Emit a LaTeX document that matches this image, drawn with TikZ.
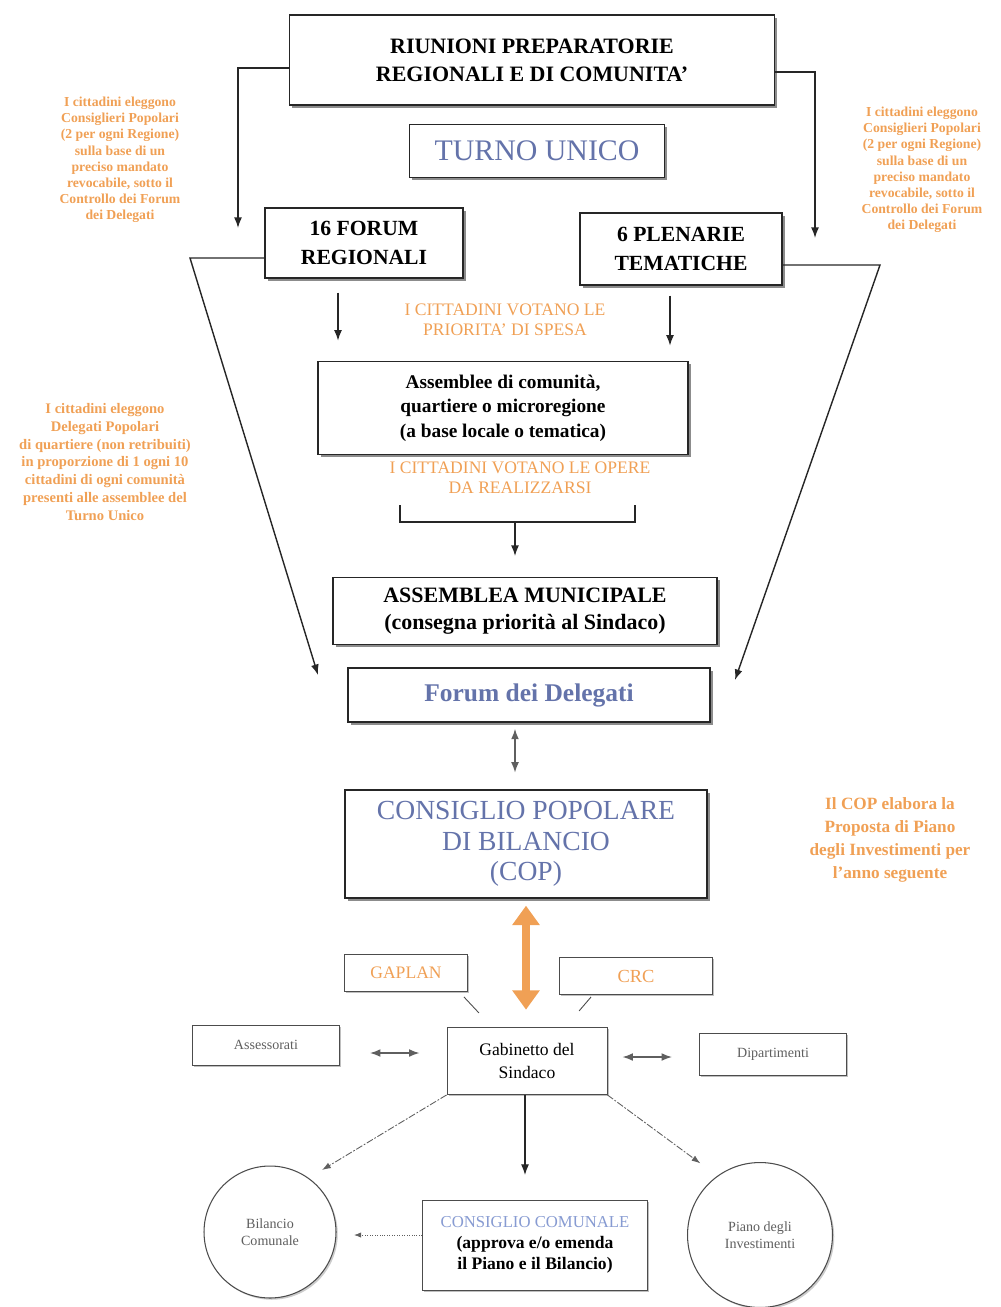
\documentclass[tikz,border=0pt]{standalone}
\usepackage{fontspec}
\setmainfont{Liberation Serif}
\usepackage{tikz}
\usetikzlibrary{arrows.meta,shadows,calc}
\definecolor{COPOrange}{RGB}{240,160,85}
\definecolor{COPBlue}{RGB}{100,115,170}
\definecolor{COPLightBlue}{RGB}{135,155,210}
\definecolor{COPGray}{RGB}{95,95,95}
\begin{document}
\begin{tikzpicture}[
  x=0.02cm,y=-0.02cm,
  box/.style={draw=black!85,fill=white,line width=0.8pt,align=center,inner sep=0pt,
              drop shadow={shadow xshift=1.6pt,shadow yshift=-1.6pt,fill=black!45,opacity=1}},
  sbox/.style={draw=black!70,fill=white,line width=0.5pt,align=center,inner sep=0pt,
               drop shadow={shadow xshift=1pt,shadow yshift=-1pt,fill=black!25,opacity=1}},
  circ/.style={circle,draw=black!70,fill=white,line width=0.6pt,align=center,inner sep=0pt,
               drop shadow={shadow xshift=1pt,shadow yshift=-1pt,fill=black!20,opacity=1}},
  note/.style={text=COPOrange,align=center,inner sep=0pt},
  arr/.style={-{Latex[length=6pt,width=4.5pt]},black!85,line width=0.8pt},
  darr/.style={{Latex[length=6pt,width=4.5pt]}-{Latex[length=6pt,width=4.5pt]},COPGray,line width=0.9pt},
  thinarr/.style={-{Latex[length=5pt,width=3.5pt]},COPGray,line width=0.5pt,dash pattern=on 4pt off 1pt on 1pt off 1pt},
]
\useasboundingbox (0,0) rectangle (1000,1307);

% top of the funnel
\node[box,minimum width=9.7cm,minimum height=1.8cm,font=\fontsize{12.5}{16}\selectfont\bfseries]
  (riun) at (532,60) {RIUNIONI PREPARATORIE\\REGIONALI E DI COMUNITA'};
\node[box,minimum width=5.1cm,minimum height=1.06cm,font=\fontsize{17}{19}\selectfont,text=COPBlue]
  (turno) at (537,151) {TURNO UNICO};
\node[box,minimum width=3.96cm,minimum height=1.4cm,font=\fontsize{12.3}{16}\selectfont\bfseries]
  (forum) at (364,243) {16 FORUM\\REGIONALI};
\node[box,minimum width=4.04cm,minimum height=1.44cm,font=\fontsize{12.3}{16}\selectfont\bfseries]
  (plen) at (681,249) {6 PLENARIE\\TEMATICHE};

\node[note,font=\fontsize{7.8}{9.2}\selectfont\bfseries] (ntl) at (120,160)
  {I cittadini eleggono\\Consiglieri Popolari\\(2 per ogni Regione)\\sulla base di un\\preciso mandato\\revocabile, sotto il\\Controllo dei Forum\\dei Delegati};
\node[note,font=\fontsize{7.8}{9.2}\selectfont\bfseries] (ntr) at (922,170)
  {I cittadini eleggono\\Consiglieri Popolari\\(2 per ogni Regione)\\sulla base di un\\preciso mandato\\revocabile, sotto il\\Controllo dei Forum\\dei Delegati};
\node[note,font=\fontsize{8.3}{10.2}\selectfont\bfseries] (nml) at (105,462)
  {I cittadini eleggono\\Delegati Popolari\\di quartiere (non retribuiti)\\in proporzione di 1 ogni 10\\cittadini di ogni comunità\\presenti alle assemblee del\\Turno Unico};

\node[note,font=\fontsize{10}{11.5}\selectfont] (vot1) at (505,320)
  {I CITTADINI VOTANO LE\\PRIORITA' DI SPESA};
\node[box,minimum width=7.4cm,minimum height=1.86cm,font=\fontsize{11}{14}\selectfont\bfseries]
  (assem) at (503,408) {Assemblee di comunità,\\quartiere o microregione\\(a base locale o tematica)};
\node[note,font=\fontsize{10}{11.5}\selectfont] (vot2) at (520,478)
  {I CITTADINI VOTANO LE OPERE\\DA REALIZZARSI};
\coordinate (brk) at (515,522);
\draw[black!85,line width=1.2pt] (400,505) -- (400,522) -- (635,522) -- (635,505);

\node[box,minimum width=7.68cm,minimum height=1.34cm,font=\fontsize{12.5}{15.5}\selectfont\bfseries]
  (munic) at (525,611) {ASSEMBLEA MUNICIPALE\\(consegna priorità al Sindaco)};
\node[box,minimum width=7.24cm,minimum height=1.08cm,font=\fontsize{14.5}{16}\selectfont\bfseries,text=COPBlue]
  (deleg) at (529,695) {Forum dei Delegati};
\node[box,minimum width=7.24cm,minimum height=2.16cm,font=\fontsize{15.7}{17.5}\selectfont,text=COPBlue]
  (cop) at (526,844) {CONSIGLIO POPOLARE\\DI BILANCIO\\(COP)};
\node[note,font=\fontsize{9.8}{13}\selectfont\bfseries] (ncop) at (890,840)
  {Il COP elabora la\\Proposta di Piano\\degli Investimenti per\\l'anno seguente};

% bottom part
\node[sbox,minimum width=2.46cm,minimum height=0.74cm,font=\fontsize{10}{11}\selectfont,text=COPOrange]
  (gaplan) at (406,973) {GAPLAN};
\node[sbox,minimum width=3.06cm,minimum height=0.74cm,font=\fontsize{10.5}{11}\selectfont,text=COPOrange]
  (crc) at (636,976) {CRC};
\node[sbox,minimum width=3.2cm,minimum height=1.34cm,font=\fontsize{10}{13}\selectfont]
  (gab) at (527,1061) {Gabinetto del\\Sindaco};
\node[sbox,minimum width=2.94cm,minimum height=0.8cm,font=\fontsize{8}{9}\selectfont,text=COPGray]
  (asses) at (266,1045) {Assessorati};
\node[sbox,minimum width=2.94cm,minimum height=0.84cm,font=\fontsize{8}{9}\selectfont,text=COPGray]
  (dipart) at (773,1054) {Dipartimenti};
\node[circ,minimum size=2.64cm,font=\fontsize{8}{10}\selectfont,text=COPGray]
  (bil) at (270,1232) {Bilancio\\Comunale};
\node[circ,minimum size=2.9cm,font=\fontsize{8}{10}\selectfont,text=COPGray]
  (piano) at (760,1235) {Piano degli\\Investimenti};
\node[sbox,minimum width=4.5cm,minimum height=1.8cm,font=\fontsize{10}{12}\selectfont\bfseries]
  (consc) at (535,1245) {{\fontsize{9.5}{11}\selectfont\mdseries\color{COPLightBlue}CONSIGLIO COMUNALE}\\(approva e/o emenda\\il Piano e il Bilancio)};

% connectors
\draw[arr] ([yshift=-0.16cm]riun.west) -| (238,228);
\draw[arr] ([yshift=-0.24cm]riun.east) -| (815,238);
\coordinate (fl) at (318,675);
\coordinate (fr) at (735,680);
\draw[arr] ([yshift=-0.3cm]forum.west) -- (190,258) -- (fl);
\draw[arr] ([yshift=-0.32cm]plen.east) -- (880,265) -- (fr);
\draw[arr] ([shift={(-26,14)}]forum.south) -- ++(0,48);
\draw[arr] ([shift={(-11,10)}]plen.south) -- ++(0,50);
\draw[arr] (brk) -- ++(0,34);
\draw[darr] ([shift={(-14,6)}]deleg.south) -- ++(0,44);
\draw[{Triangle[length=11pt,width=15pt]}-{Triangle[length=11pt,width=15pt]},COPOrange,line width=5pt]
  ([yshift=-0.14cm]cop.south) -- ++(0,104);
\draw[black!70,line width=0.5pt] ([shift={(-4,5)}]gaplan.south east) -- ++(15,16);
\draw[black!70,line width=0.5pt] ([shift={(32,2)}]crc.south west) -- ++(-12,14);
\draw[darr] ([shift={(30,8)}]asses.east) -- ([shift={(-27,-8)}]gab.west);
\draw[darr] ([shift={(15,-4)}]gab.east) -- ([shift={(-27,3)}]dipart.west);
\draw[thinarr] (gab.south west) -- ([shift={(5,-15)}]bil.north east);
\draw[thinarr] (gab.south east) -- ([shift={(-8,-20)}]piano.north west);
\draw[arr,line width=0.6pt] ([xshift=-0.04cm]gab.south) -- ++(0,80);
\draw[-{Latex[length=4pt,width=3pt]},COPGray,line width=0.4pt,densely dotted] ([yshift=0.2cm]consc.west) -- ++(-68,0);
\end{tikzpicture}
\end{document}
